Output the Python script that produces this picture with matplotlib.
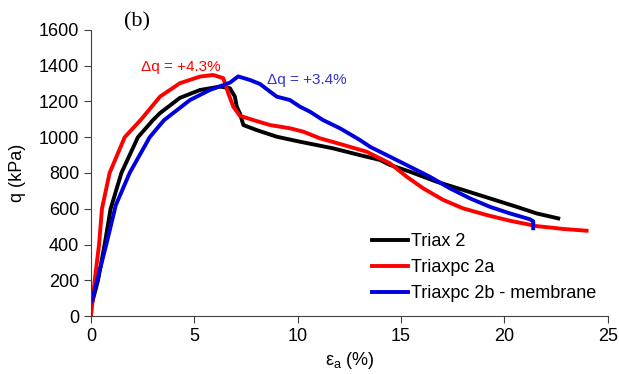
import numpy as np
import matplotlib.pyplot as plt

plt.rcParams['font.family'] = ['Liberation Sans', 'DejaVu Sans']

# %% Data
triax2_x = [0.0, 0.34, 0.66, 0.95, 1.47, 2.27, 3.0, 3.34, 4.3, 5.27, 6.24, 6.72, 6.96,
            7.05, 7.2, 7.37, 8.01, 8.98, 10.1, 11.7, 13.0, 13.97, 14.46, 15.43, 16.72, 18.0,
            19.29, 20.58, 21.55, 22.6]
triax2_q = [50, 200, 400, 600, 800, 1000, 1096, 1135, 1220, 1264, 1283, 1274, 1227,
            1171, 1134, 1068, 1040, 1003, 975, 938, 900, 873, 845, 807, 751, 705,
            658, 611, 574, 546]

tpc2a_x = [0.0, 0.18, 0.39, 0.53, 0.9, 1.63, 2.43, 3.34, 4.3, 5.27, 5.91, 6.4, 6.64,
           6.88, 7.2, 7.85, 8.66, 9.62, 10.27, 11.07, 12.2, 13.33, 13.97,
           14.46, 15.27, 16.07, 17.04, 18.0, 19.13, 20.26, 21.55, 22.84, 23.97]
tpc2a_q = [0, 200, 400, 600, 800, 1000, 1100, 1227, 1302, 1339, 1348, 1330, 1246,
           1171, 1120, 1096, 1068, 1050, 1031, 994, 957, 919, 882,
           854, 779, 714, 649, 602, 565, 533, 503, 487, 477]

tpc2b_x = [0.0, 0.05, 0.3, 0.74, 1.2, 1.87, 2.84, 3.53, 4.79, 5.75, 6.72, 7.12, 7.69,
           8.17, 8.66, 8.98, 9.62, 10.1, 10.59, 11.22, 12.04, 13.0, 13.49, 14.46, 15.43,
           16.39, 17.36, 18.33, 19.29, 20.26, 21.23, 21.39, 21.39]
tpc2b_q = [78, 90, 200, 400, 620, 800, 1000, 1095, 1208, 1264, 1305, 1340, 1320,
           1298, 1255, 1227, 1208, 1171, 1143, 1096, 1050, 985, 947, 891, 835,
           779, 714, 658, 611, 574, 541, 530, 491]

ann_red = "Δq = +4.3%"
ann_blue = "Δq = +3.4%"

# %% Plot
fig = plt.figure(figsize=(6.19, 3.74), dpi=100)
ax = fig.add_axes([0.147, 0.155, 0.835, 0.765])

ax.plot(triax2_x, triax2_q, color='black', linewidth=2.8, label='Triax 2')
ax.plot(tpc2a_x, tpc2a_q, color='#ff0000', linewidth=2.8, label='Triaxpc 2a')
ax.plot(tpc2b_x, tpc2b_q, color='#0000dd', linewidth=2.8, label='Triaxpc 2b - membrane')

ax.set_xlim(0, 25)
ax.set_ylim(0, 1600)
ax.set_xticks(range(0, 26, 5))
ax.set_yticks(range(0, 1601, 200))
for s in ['top', 'right']:
    ax.spines[s].set_visible(False)
for s in ['left', 'bottom']:
    ax.spines[s].set_color('#404040')
ax.tick_params(direction='out', length=5, colors='#404040', labelsize=13, labelcolor='black')

ax.set_xlabel(r'ε$_\mathregular{a}$ (%)', fontsize=13, labelpad=4)
ax.set_ylabel('q (kPa)', fontsize=13, labelpad=9)

ax.text(1.6, 1645, '(b)', fontsize=16, family='Liberation Serif', va='center',
        clip_on=False)
ax.text(2.4, 1395, ann_red, color='#ff0000', fontsize=11, va='center')
ax.text(8.5, 1322, ann_blue, color='#3333cc', fontsize=11, va='center')

ax.legend(loc='center left', bbox_to_anchor=(0.543, 0.168), frameon=False, fontsize=13,
          handlelength=2.0, handletextpad=0.2, labelspacing=0.5,
          borderpad=0, borderaxespad=0)

fig.savefig('out.png', dpi=100)
